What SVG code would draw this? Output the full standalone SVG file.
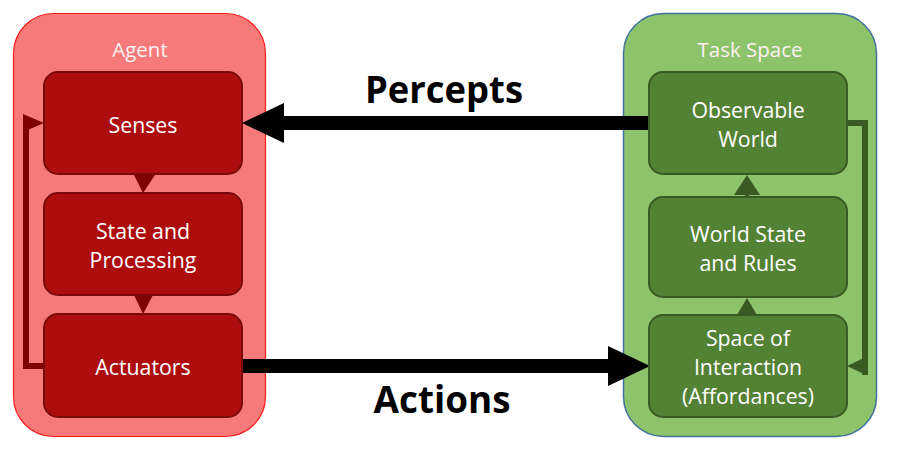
<svg xmlns="http://www.w3.org/2000/svg" width="904" height="468" viewBox="0 0 904 468">
<style>
.t{font-family:"Open Sans","Noto Sans",sans-serif;font-size:21.3px;fill:#ffffff;text-anchor:middle}
.title{font-family:"Open Sans","Noto Sans",sans-serif;font-size:20.5px;fill:#fdf2f2;text-anchor:middle}
.big{font-family:"Open Sans","Noto Sans",sans-serif;font-size:37px;font-weight:bold;fill:#000;text-anchor:middle}
.rn{fill:#ae0d0d;stroke:#7a0a0a;stroke-width:2}
.gn{fill:#548235;stroke:#3a5a24;stroke-width:2}
</style>
<defs>
<marker id="big" markerUnits="userSpaceOnUse" markerWidth="42" markerHeight="40" viewBox="0 0 42 40" refX="0" refY="20" orient="auto">
<path d="M0,0 L42,20 L0,40 z" fill="#000"/>
</marker>
</defs>
<g id="agent">
<rect x="13.5" y="13.5" width="252" height="423" rx="40" fill="#f67a7a" stroke="#ff1a1a" stroke-width="1.2"/>
<text class="title" x="140" y="57">Agent</text>
</g>
<g id="taskspace">
<rect x="623.5" y="13.5" width="253" height="423" rx="40" fill="#8dc36b" stroke="#41719c" stroke-width="1.5"/>
<text class="title" x="750" y="57" fill="#f5fbf0">Task Space</text>
</g>
<g id="connectors">
<path d="M649 123 H284" stroke="#000" stroke-width="14" fill="none" marker-end="url(#big)"/>
<path d="M242 366 H608" stroke="#000" stroke-width="14" fill="none" marker-end="url(#big)"/>
<polygon points="134,175 155,175 143,193" fill="#800000"/>
<polygon points="134,295 153,295 143,314" fill="#800000"/>
<path d="M44 366 H26 V123 H28" stroke="#800000" stroke-width="6" fill="none"/>
<polygon points="23,114 44,123 23,132" fill="#800000"/>
<polygon points="734,195 747,175 760,195" fill="#3a5a24"/>
<rect x="745" y="194" width="4" height="3" fill="#3a5a24"/>
<polygon points="737,315 747,298 757,315" fill="#3a5a24"/>
<path d="M847 123 H865 V375" stroke="#3a5a24" stroke-width="6" fill="none"/>
<polygon points="866,357 847,366 866,375" fill="#3a5a24"/>
</g>
<g id="senses">
<rect class="rn" x="44" y="72" width="198" height="102" rx="14"/>
<text class="t" x="143" y="133">Senses</text>
</g>
<g id="state">
<rect class="rn" x="44" y="193" width="198" height="102" rx="14"/>
<text class="t" x="143" y="239">State and</text>
<text class="t" x="143" y="268">Processing</text>
</g>
<g id="actuators">
<rect class="rn" x="44" y="314" width="198" height="103" rx="14"/>
<text class="t" x="143" y="375">Actuators</text>
</g>
<g id="observable">
<rect class="gn" x="649" y="72" width="198" height="102" rx="14"/>
<text class="t" x="748" y="118">Observable</text>
<text class="t" x="748" y="147">World</text>
</g>
<g id="worldstate">
<rect class="gn" x="649" y="197" width="198" height="100" rx="14"/>
<text class="t" x="748" y="242">World State</text>
<text class="t" x="748" y="271">and Rules</text>
</g>
<g id="interaction">
<rect class="gn" x="649" y="315" width="198" height="102" rx="14"/>
<text class="t" x="748" y="346">Space of</text>
<text class="t" x="748" y="375">Interaction</text>
<text class="t" x="748" y="404">(Affordances)</text>
</g>
<g id="labels">
<text class="big" x="444" y="103" textLength="158" lengthAdjust="spacingAndGlyphs">Percepts</text>
<text class="big" x="442" y="413" textLength="137" lengthAdjust="spacingAndGlyphs">Actions</text>
</g>
</svg>
